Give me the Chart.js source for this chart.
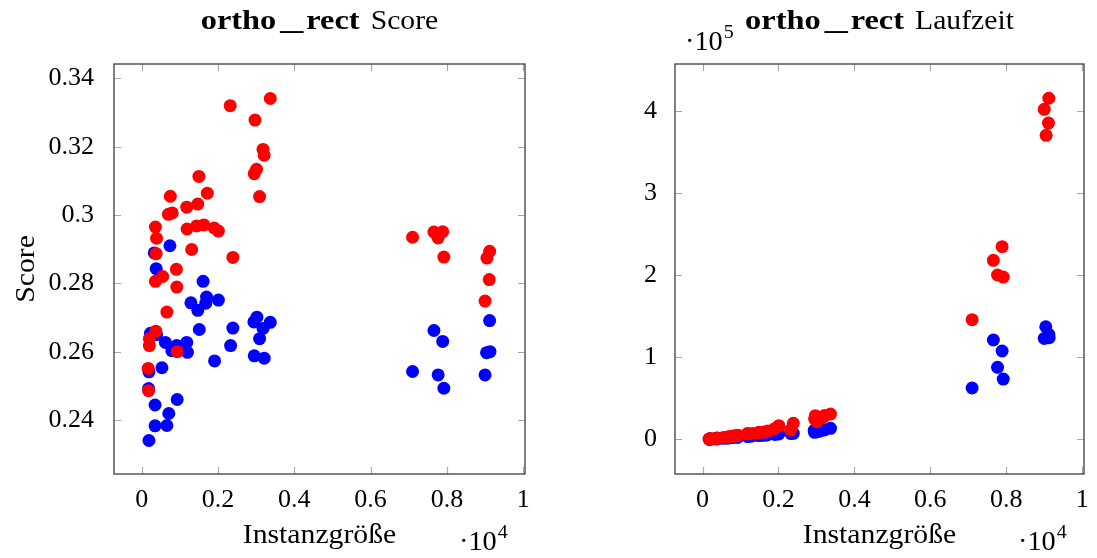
<!DOCTYPE html>
<html>
<head>
<meta charset="utf-8">
<title>ortho_rect</title>
<script src="https://cdn.jsdelivr.net/npm/chart.js@4.4.0/dist/chart.umd.min.js"></script>
<style>
    html, body { margin: 0; padding: 0; background: #fff; }
    #wrap { position: relative; width: 1097px; height: 558px; }
    .box { position: absolute; top: 0; height: 558px; }
    #box-score { left: 0; width: 560px; }
    #box-zeit { left: 560px; width: 537px; }
</style>
</head>
<body>
<div id="wrap">
    <div class="box" id="box-score"><canvas id="chart-score"></canvas></div>
    <div class="box" id="box-zeit"><canvas id="chart-zeit"></canvas></div>
</div>
<script>
// Instanzgröße, Score und Laufzeit (ms) pro Instanz
const redSizes = [3370, 2320, 2970, 3180, 3210, 3010, 2950, 3090, 1500, 1720, 750, 1470, 1180, 700, 800, 360, 1190, 1440, 1630, 1900, 2010, 390, 380, 1310, 2390, 910, 550, 360, 920, 660, 370, 200, 200, 930, 170, 180,
    7100, 7660, 7890, 7770, 7920, 9120, 9050, 9110, 9000];
const redScores = [0.3341, 0.3320, 0.3278, 0.3192, 0.3175, 0.3134, 0.3121, 0.3054, 0.3113, 0.3064, 0.3055, 0.3032, 0.3023, 0.3002, 0.3006, 0.2965, 0.2959, 0.2968, 0.2971, 0.2962, 0.2953, 0.2932, 0.2887, 0.2899, 0.2876, 0.2841, 0.2820, 0.2806, 0.2789, 0.2716, 0.2660, 0.2638, 0.2618, 0.2600, 0.2551, 0.2486,
    0.2935, 0.2950, 0.2951, 0.2933, 0.2877, 0.2894, 0.2874, 0.2811, 0.2748];
const redTimes = [30900, 11300, 28800, 27000, 29000, 21500, 25000, 26000, 8500, 10000, 3500, 8000, 7000, 3000, 4000, 1200, 6500, 7500, 9000, 13000, 16600, 1500, 1400, 7200, 19500, 4800, 2200, 1100, 5000, 2800, 1300, 500, 600, 4500, 300, 400,
    145900, 218300, 234900, 200400, 197900, 415900, 370700, 385700, 402400];

const blueSizes = [740, 330, 380, 1610, 1290, 1470, 1700, 1680, 2010, 1510, 2390, 230, 390, 620, 920, 1180, 790, 1200, 2330, 1910, 530, 190, 180, 930, 350, 710, 350, 660, 190, 2940, 3020, 3180, 3370, 3090, 2950, 3210,
    9120, 7660, 7890, 9040, 9130, 7100, 7770, 9000, 7920];
const blueScores = [0.2910, 0.2889, 0.2843, 0.2806, 0.2743, 0.2721, 0.2760, 0.2742, 0.2751, 0.2665, 0.2669, 0.2654, 0.2650, 0.2627, 0.2618, 0.2627, 0.2603, 0.2598, 0.2618, 0.2573, 0.2553, 0.2541, 0.2492, 0.2460, 0.2444, 0.2419, 0.2383, 0.2384, 0.2340, 0.2687, 0.2701, 0.2668, 0.2686, 0.2638, 0.2588, 0.2581,
    0.2691, 0.2662, 0.2630, 0.2597, 0.2600, 0.2542, 0.2532, 0.2532, 0.2493];
const blueTimes = [2000, 600, 700, 5000, 4000, 4500, 5500, 5200, 6500, 4600, 7300, 400, 800, 1500, 2500, 3500, 2100, 3600, 7000, 6000, 1200, 300, 300, 2600, 600, 1800, 700, 1600, 200, 11000, 9300, 12000, 13400, 10000, 8500, 11500,
    128000, 121100, 107700, 137300, 124000, 62600, 87800, 123000, 73500];

const xTicks = [0, 2000, 4000, 6000, 8000, 10000];
const scoreTicks = [0.24, 0.26, 0.28, 0.30, 0.32, 0.34];
const zeitTicks = [0, 100000, 200000, 300000, 400000];

const SERIF = '"Liberation Serif", "DejaVu Serif", serif';
const FS = 26;   // Tick-Beschriftung
const TS = 27;   // Titel und Achsentitel
const WIDE = 1.1; // Computer-Modern-Laufweite nachbilden

const pairs = (xs, ys) => xs.map((x, i) => ({ x: x, y: ys[i] }));

// Text horizontal gestreckt zeichnen, gibt die Breite zurück
const fillWide = (ctx, text, x, y, sx, align) => {
    const w = ctx.measureText(text).width * sx;
    const left = align === 'center' ? x - w / 2 : x;
    ctx.save();
    ctx.translate(left, y);
    ctx.scale(sx, 1);
    ctx.textAlign = 'left';
    ctx.fillText(text, 0, 0);
    ctx.restore();
    return w;
};

// "·10" mit hochgestelltem Exponenten, x = linker Rand, y = Grundlinie
const drawPower = (ctx, x, y, exp) => {
    ctx.font = `${TS}px ${SERIF}`;
    const w = fillWide(ctx, '·10', x, y, 1.05, 'left');
    ctx.font = `${Math.round(TS * 0.7)}px ${SERIF}`;
    fillWide(ctx, exp, x + w + 1, y - 12, 1.05, 'left');
};

// "ortho_rect" fett + Rest normal, zentriert auf cx
const drawTitle = (ctx, cx, y, rest) => {
    const sb = 1.2;
    ctx.font = `bold ${TS}px ${SERIF}`;
    const wo = ctx.measureText('ortho').width * sb;
    const wr = ctx.measureText('rect').width * sb;
    const wu = 23;
    const boldW = wo + 4 + wu + 3 + wr;
    ctx.font = `${TS}px ${SERIF}`;
    const restW = ctx.measureText(rest).width * WIDE;
    let x = cx - (boldW + 11 + restW) / 2;

    ctx.font = `bold ${TS}px ${SERIF}`;
    fillWide(ctx, 'ortho', x, y, sb, 'left');
    const uw = ctx.measureText('_').width;
    fillWide(ctx, '_', x + wo + 4, y, wu / uw, 'left');
    fillWide(ctx, 'rect', x + wo + 4 + wu + 3, y, sb, 'left');
    ctx.font = `${TS}px ${SERIF}`;
    fillWide(ctx, rest, x + boldW + 11, y, WIDE, 'left');
};

const makeChart = (id, cfg) => {
    const labels = {
        id: 'labels-' + id,
        afterDraw(chart) {
            const { ctx, chartArea: a, scales: { x, y } } = chart;
            ctx.save();

            // Teilstriche innen, auf allen vier Seiten
            ctx.strokeStyle = '#a8a8a8';
            ctx.lineWidth = 1.2;
            ctx.beginPath();
            x.ticks.forEach(t => {
                const px = Math.round(x.getPixelForValue(t.value)) + 0.5;
                ctx.moveTo(px, a.bottom); ctx.lineTo(px, a.bottom - 7);
                ctx.moveTo(px, a.top); ctx.lineTo(px, a.top + 7);
            });
            y.ticks.forEach(t => {
                const py = Math.round(y.getPixelForValue(t.value)) + 0.5;
                ctx.moveTo(a.left, py); ctx.lineTo(a.left + 7, py);
                ctx.moveTo(a.right, py); ctx.lineTo(a.right - 7, py);
            });
            ctx.stroke();

            ctx.strokeStyle = '#3c3c3c';
            ctx.lineWidth = 1.3;
            ctx.strokeRect(a.left, a.top, a.width, a.height);

            ctx.fillStyle = '#000';
            ctx.textBaseline = 'alphabetic';

            drawTitle(ctx, (a.left + a.right) / 2, 29, cfg.title);

            // Achsentitel
            ctx.font = `${TS}px ${SERIF}`;
            fillWide(ctx, 'Instanzgröße', (a.left + a.right) / 2, 543, WIDE, 'center');
            ctx.save();
            ctx.translate(cfg.yTitleX, (a.top + a.bottom) / 2);
            ctx.rotate(-Math.PI / 2);
            fillWide(ctx, cfg.yTitle, 0, 0, WIDE, 'center');
            ctx.restore();

            drawPower(ctx, a.right - 66, 550, '4');
            if (cfg.yExp) drawPower(ctx, cfg.yExpX, 50, cfg.yExp);

            ctx.restore();
        }
    };

    return new Chart(document.getElementById(id), {
        type: 'scatter',
        data: {
            datasets: [
                {
                    label: 'rot',
                    data: pairs(redSizes, cfg.redY),
                    backgroundColor: '#ff0000',
                    borderWidth: 0,
                    pointRadius: 6.5,
                    order: 0
                },
                {
                    label: 'blau',
                    data: pairs(blueSizes, cfg.blueY),
                    backgroundColor: '#0000ff',
                    borderWidth: 0,
                    pointRadius: 6.5,
                    order: 1
                }
            ]
        },
        options: {
            responsive: true,
            maintainAspectRatio: false,
            animation: false,
            events: [],
            layout: { padding: { top: 64, right: cfg.padRight, left: 0, bottom: 0 } },
            plugins: {
                legend: { display: false },
                title: { display: false },
                tooltip: { enabled: false }
            },
            scales: {
                x: {
                    type: 'linear',
                    min: -726,
                    max: 10047,
                    grid: { display: false },
                    border: { display: false },
                    afterBuildTicks: s => { s.ticks = xTicks.map(v => ({ value: v })); },
                    afterFit: s => { s.height = 84; },
                    ticks: {
                        padding: 3,
                        color: '#000',
                        font: { family: SERIF, size: FS },
                        maxRotation: 0,
                        callback: v => String(v / 1e4)
                    }
                },
                y: {
                    type: 'linear',
                    min: cfg.yMin,
                    max: cfg.yMax,
                    grid: { display: false },
                    border: { display: false },
                    afterBuildTicks: s => { s.ticks = cfg.yTicks.map(v => ({ value: v })); },
                    afterFit: s => { s.width = cfg.yWidth; },
                    ticks: {
                        padding: cfg.yPad,
                        color: '#000',
                        font: { family: SERIF, size: FS },
                        callback: cfg.yFmt
                    }
                }
            }
        },
        plugins: [labels]
    });
};

makeChart('chart-score', {
    title: 'Score',
    yTitle: 'Score',
    yTitleX: 34,
    redY: redScores,
    blueY: blueScores,
    yMin: 0.2242,
    yMax: 0.3442,
    yTicks: scoreTicks,
    yFmt: v => String(parseFloat(v.toFixed(2))),
    yWidth: 114,
    yPad: 12,
    padRight: 35
});

makeChart('chart-zeit', {
    title: 'Laufzeit',
    yTitle: 'Laufzeit (ms)',
    yTitleX: 623,
    redY: redTimes,
    blueY: blueTimes,
    yMin: -42300,
    yMax: 457700,
    yTicks: zeitTicks,
    yFmt: v => String(v / 1e5),
    yWidth: 115,
    yPad: 10,
    padRight: 13,
    yExp: '5',
    yExpX: 125
});
</script>
</body>
</html>
